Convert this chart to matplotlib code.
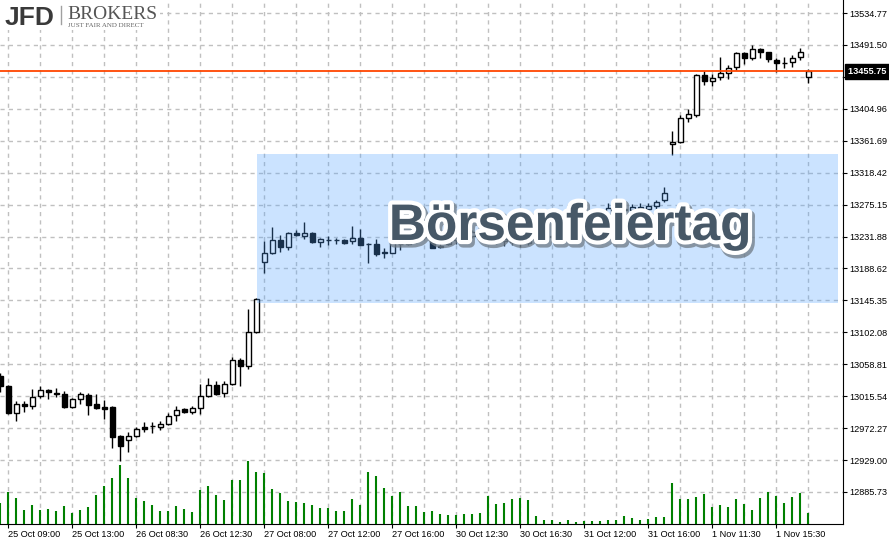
import numpy as np
import matplotlib
matplotlib.use('Agg')
import matplotlib.pyplot as plt
import matplotlib.patheffects as pe
from matplotlib.patches import Rectangle
from matplotlib.lines import Line2D

plt.rcParams['font.family'] = ['Liberation Sans', 'DejaVu Sans']

# 30 min bars, 25 Oct - 1 Nov
opens = [13042.9, 13029.3, 12992.7, 13004.9, 13002.2, 13015.8, 13023.9, 13019.9, 13018.5, 13000.9,
         13011.7, 13017.1, 13004.9, 13000.9, 13000.9, 12961.6, 12956.2, 12961.6, 12973.8, 12975.1,
         12973.8, 12977.8, 12990.0, 12998.2, 12994.1, 12999.5, 13015.8, 13030.7, 13019.9, 13032.0,
         13064.6, 13056.4, 13102.5, 13197.4, 13209.6, 13227.2, 13217.7, 13236.7, 13232.6, 13236.7,
         13224.5, 13227.2, 13227.2, 13227.2, 13225.8, 13229.9, 13221.8, 13221.8, 13210.9, 13209.6,
         13221.8, 13221.8, 13227.2, 13231.2, 13227.2, 13217.7, 13221.8, 13227.2, 13229.9, 13232.6,
         13238.0, 13235.3, 13231.2, 13225.8, 13228.5, 13224.5, 13223.1, 13227.2, 13229.9, 13231.2,
         13232.6, 13235.3, 13236.7, 13239.4, 13243.4, 13251.6, 13259.7, 13270.5, 13269.2, 13267.8,
         13271.9, 13269.2, 13273.3, 13281.4, 13357.3, 13360.0, 13392.5, 13396.6, 13450.8, 13442.6,
         13448.1, 13453.5, 13461.6, 13480.6, 13473.8, 13486.0, 13481.9, 13471.1, 13467.0, 13468.4,
         13475.2, 13448.1]
highs = [13046.9, 13030.7, 13009.0, 13009.0, 13025.3, 13029.3, 13025.3, 13026.6, 13022.6, 13013.1,
         13021.2, 13019.9, 13018.5, 13010.4, 13002.2, 12962.9, 12967.0, 12973.8, 12980.5, 12980.5,
         12981.9, 12992.7, 13002.2, 12999.5, 13002.2, 13032.0, 13040.2, 13036.1, 13036.1, 13068.6,
         13067.3, 13133.7, 13148.6, 13225.8, 13244.8, 13234.0, 13238.0, 13240.7, 13251.6, 13238.0,
         13229.9, 13232.6, 13229.9, 13228.5, 13246.2, 13242.1, 13223.1, 13228.5, 13216.3, 13227.2,
         13224.5, 13229.9, 13231.2, 13234.0, 13229.9, 13224.5, 13229.9, 13232.6, 13235.3, 13240.7,
         13242.1, 13243.4, 13236.7, 13232.6, 13234.0, 13229.9, 13231.2, 13232.6, 13234.0, 13235.3,
         13236.7, 13238.0, 13240.7, 13246.2, 13254.3, 13262.4, 13277.3, 13276.0, 13274.6, 13276.0,
         13277.3, 13277.3, 13281.4, 13299.0, 13374.9, 13396.6, 13404.7, 13452.1, 13456.2, 13452.1,
         13475.2, 13464.3, 13481.9, 13481.9, 13491.4, 13487.4, 13482.5, 13473.8, 13475.2, 13477.9,
         13487.4, 13458.9]
lows = [13021.2, 12991.4, 12981.9, 12994.1, 12998.2, 13013.1, 13011.7, 13014.4, 12999.5, 12999.5,
        13004.9, 12990.0, 12998.2, 12984.6, 12945.3, 12927.7, 12939.9, 12960.2, 12967.0, 12965.6,
        12969.7, 12976.5, 12981.9, 12992.7, 12991.4, 12991.4, 13014.4, 13017.1, 13014.4, 13030.7,
        13029.3, 13052.4, 13101.2, 13182.5, 13208.2, 13210.9, 13213.6, 13232.6, 13228.5, 13223.1,
        13217.7, 13220.4, 13221.8, 13221.8, 13221.8, 13220.4, 13196.0, 13205.5, 13202.8, 13208.9,
        13213.6, 13220.4, 13223.1, 13228.5, 13216.3, 13216.3, 13220.4, 13221.8, 13225.8, 13229.9,
        13232.6, 13227.2, 13221.8, 13219.0, 13220.4, 13217.7, 13220.4, 13224.5, 13227.2, 13228.5,
        13229.9, 13232.6, 13234.0, 13236.7, 13240.7, 13248.9, 13257.0, 13265.1, 13263.8, 13262.4,
        13265.1, 13263.8, 13267.8, 13278.7, 13342.4, 13358.6, 13387.1, 13393.9, 13437.2, 13435.9,
        13444.0, 13445.4, 13457.5, 13465.7, 13471.1, 13473.8, 13468.4, 13454.8, 13460.3, 13461.6,
        13471.1, 13439.9]
closes = [13029.3, 12992.7, 13004.9, 13002.2, 13014.4, 13023.9, 13021.2, 13018.5, 13000.9, 13011.7,
          13018.5, 13003.6, 12999.5, 12998.2, 12960.2, 12948.0, 12961.6, 12971.1, 12971.1, 12975.4,
          12977.8, 12988.7, 12996.8, 12994.1, 12999.5, 13015.8, 13030.7, 13018.5, 13032.0, 13064.6,
          13056.4, 13102.5, 13147.2, 13209.6, 13227.2, 13217.7, 13236.7, 13234.0, 13236.7, 13224.0,
          13228.5, 13226.6, 13227.7, 13223.1, 13229.9, 13221.0, 13221.1, 13208.2, 13210.2, 13224.5,
          13221.2, 13225.8, 13226.5, 13230.7, 13216.9, 13219.0, 13227.2, 13229.9, 13232.6, 13238.0,
          13235.3, 13231.2, 13225.8, 13228.5, 13224.5, 13223.1, 13227.2, 13229.9, 13231.2, 13232.6,
          13235.3, 13236.7, 13239.4, 13243.4, 13251.6, 13259.7, 13270.5, 13269.2, 13267.8, 13271.9,
          13269.2, 13273.3, 13278.7, 13290.9, 13360.0, 13392.5, 13397.9, 13450.8, 13442.6, 13446.7,
          13453.5, 13460.3, 13480.6, 13473.8, 13486.0, 13481.9, 13472.5, 13467.0, 13467.4, 13473.8,
          13481.9, 13455.75]
volumes = [210, 320, 260, 140, 190, 140, 150, 130, 180, 110, 140, 170, 290, 380, 460, 590, 460, 260,
           230, 190, 130, 130, 180, 150, 120, 340, 380, 290, 240, 440, 440, 630, 520, 510, 350, 310,
           230, 220, 210, 190, 160, 160, 130, 130, 250, 190, 520, 480, 360, 280, 320, 180, 180, 120,
           130, 100, 90, 90, 100, 100, 110, 280, 200, 210, 250, 260, 240, 80, 40, 40, 20, 40, 20, 30,
           30, 30, 40, 40, 80, 60, 40, 50, 70, 70, 410, 250, 250, 270, 300, 170, 190, 170, 250, 200,
           140, 260, 320, 280, 210, 270, 310, 110]

time_labels = ['25 Oct 09:00', '25 Oct 13:00', '26 Oct 08:30', '26 Oct 12:30', '27 Oct 08:00',
               '27 Oct 12:00', '27 Oct 16:00', '30 Oct 12:30', '30 Oct 16:30', '31 Oct 12:00',
               '31 Oct 16:00', '1 Nov 11:30', '1 Nov 15:30']
label_bars = [1, 9, 17, 25, 33, 41, 49, 57, 65, 73, 81, 89, 97]
price_ticks = [12885.73, 12929.00, 12972.27, 13015.54, 13058.81, 13102.08, 13145.35, 13188.62,
               13231.88, 13275.15, 13318.42, 13361.69, 13404.96, 13448.23, 13491.50, 13534.77]
last_price = 13455.75
holiday_bars = (32.07, 104.69)
holiday_prices = (13141.8, 13343.3)

fig = plt.figure(figsize=(8.89, 5.43), dpi=100)
ax = fig.add_axes([0, 19 / 543, 843 / 889, 524 / 543])

x = np.arange(len(opens))
o = np.array(opens)
h = np.array(highs)
l = np.array(lows)
c = np.array(closes)
up = c >= o

# volumes on their own scale
ax2 = ax.twinx()
ax2.vlines(x, 0, volumes, color='#008000', lw=1.5)
ax2.set_ylim(0, 5240)
ax2.set_yticks([])
for s in ax2.spines.values():
    s.set_visible(False)

# candles
ax.vlines(x, l, h, color='black', lw=1, zorder=2)
ax.bar(x, np.maximum(np.abs(c - o), 0.4), bottom=np.minimum(o, c), width=0.62,
       color=np.where(up, 'white', 'black'), edgecolor='black', lw=1, zorder=3)

ax.axhline(last_price, color='#ff4500', lw=1.3, zorder=3.5)

ax.add_patch(Rectangle((holiday_bars[0], holiday_prices[0]), holiday_bars[1] - holiday_bars[0],
                       holiday_prices[1] - holiday_prices[0], fc='#55a5ff', alpha=0.3, ec='none', zorder=4))

ax.text(71.2, 13227.2, 'Börsenfeiertag', fontsize=37, fontweight='bold', color='#475867',
        ha='center', va='baseline', zorder=5,
        path_effects=[pe.Stroke(linewidth=7, foreground='#6f7a84', alpha=0.75, offset=(1.5, -2)),
                      pe.Stroke(linewidth=6, foreground='white'), pe.Normal()])

ax.set_xlim(-0.06, 105.315)
ax.set_ylim(12842.3, 13552.4)

ax.set_xticks(label_bars, time_labels)
ax.set_xticks([b + 4 for b in label_bars], minor=True)
for lbl in ax.get_xticklabels():
    lbl.set_ha('left')
ax.tick_params(axis='x', which='major', length=3, pad=1.5, labelsize=6.6, color='black')
ax.tick_params(axis='x', which='minor', length=0)

# the tick under the current price box keeps its grid line but no label
ax.yaxis.tick_right()
ax.set_yticks(price_ticks, ['' if abs(p - last_price) < 10 else '%.2f' % p for p in price_ticks])
ax.tick_params(axis='y', length=3, pad=1.5, labelsize=6.6)

ax.set_axisbelow(True)
ax.grid(which='both', axis='x', color='#c0c0c0', ls=(0, (3, 3)), lw=1)
ax.grid(axis='y', color='#c0c0c0', ls=(0, (3, 3)), lw=1)
for side in ['left', 'top']:
    ax.spines[side].set_visible(False)
for side in ['right', 'bottom']:
    ax.spines[side].set_color('black')

ax.text(1.006, last_price, '13455.75 ', transform=ax.get_yaxis_transform(), ha='left', va='center',
        color='white', fontsize=6.6, fontweight='bold', zorder=6, clip_on=False,
        bbox=dict(boxstyle='square,pad=0.3', fc='black', ec='black'))

# logo
fig.add_artist(Rectangle((0, 1 - 30 / 543), 160 / 889, 30 / 543, transform=fig.transFigure,
                         fc='white', ec='none', zorder=2))
fig.text(5 / 889, 1 - 25 / 543, 'JFD', fontsize=19, fontweight='bold', color='#3a3a3a',
         va='baseline', zorder=3)
fig.add_artist(Line2D([61 / 889, 61 / 889], [1 - 6 / 543, 1 - 24 / 543], transform=fig.transFigure,
                      color='#a0a0a0', lw=1, zorder=3))
fig.text(67 / 889, 1 - 19 / 543, 'BROKERS', fontsize=14, family='Liberation Serif', color='#555555',
         va='baseline', zorder=3)
fig.text(68 / 889, 1 - 27 / 543, 'JUST FAIR AND DIRECT', fontsize=5, family='Liberation Serif',
         color='#666666', va='baseline', zorder=3)

fig.savefig('out.png', dpi=100)
